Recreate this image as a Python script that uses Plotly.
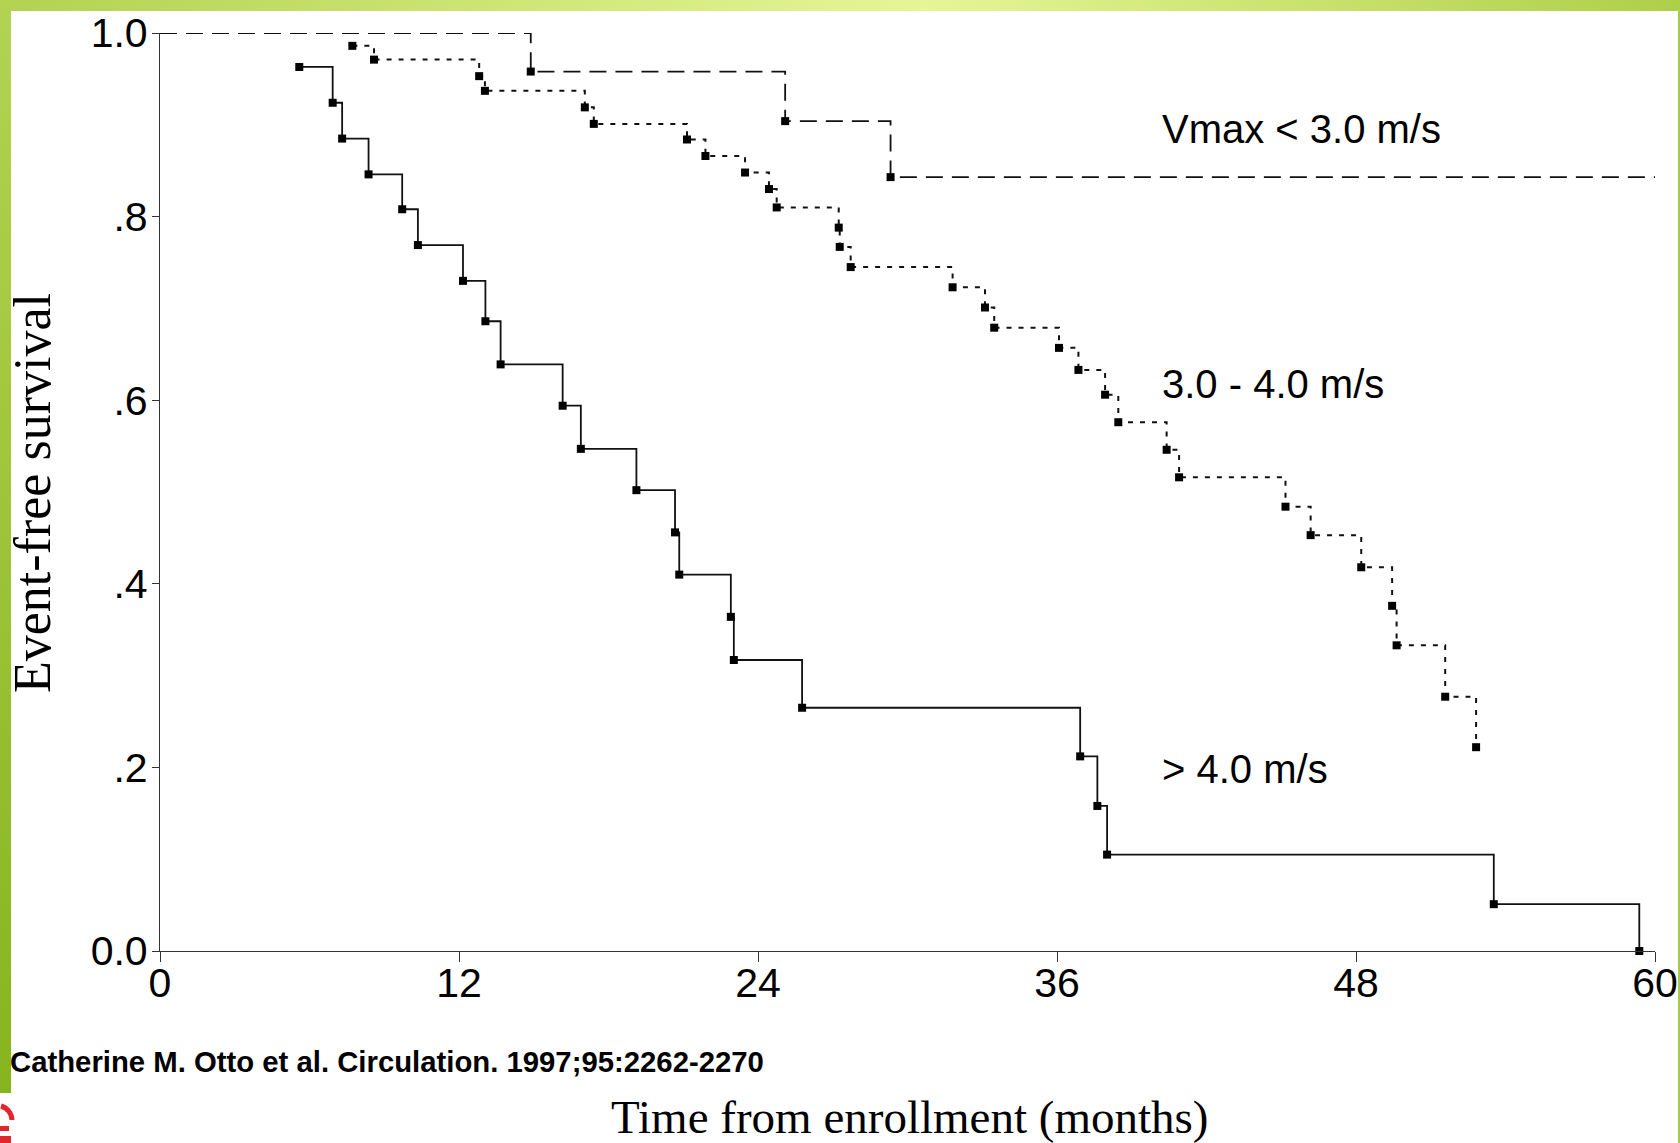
import base64
import plotly.graph_objects as go

# ---- data (months, event-free survival) ----
severe_t = [5.59, 6.93, 7.31, 8.37, 9.72, 10.35, 12.16, 13.06, 13.67, 16.16, 16.89,
            19.12, 20.67, 20.84, 22.91, 23.03, 25.77, 36.93, 37.62, 38.01, 53.53, 59.37]
severe_s = [0.963, 0.924, 0.885, 0.846, 0.808, 0.769, 0.730, 0.686, 0.639, 0.594, 0.547,
            0.502, 0.456, 0.410, 0.364, 0.317, 0.265, 0.212, 0.158, 0.105, 0.051, 0.0]

moderate_t = [7.72, 8.59, 12.81, 13.04, 17.05, 17.41, 21.15, 21.89, 23.48, 24.44, 24.75,
              27.24, 27.28, 27.72, 31.81, 33.11, 33.48, 36.08, 36.86, 37.93, 38.46,
              40.40, 40.90, 45.17, 46.18, 48.21, 49.45, 49.63, 51.58, 52.82]
moderate_s = [0.986, 0.971, 0.953, 0.937, 0.919, 0.901, 0.884, 0.866, 0.848, 0.830, 0.810,
              0.788, 0.767, 0.745, 0.723, 0.701, 0.679, 0.657, 0.633, 0.606, 0.576,
              0.546, 0.516, 0.484, 0.453, 0.418, 0.376, 0.333, 0.277, 0.222]

mild_t = [14.88, 25.09, 29.32]
mild_s = [0.958, 0.904, 0.843]
mild_start_t, mild_start_s = 0.0, 1.0
mild_end_t = 60.0

x_ticks = [0, 12, 24, 36, 48, 60]
x_ticklabels = ["0", "12", "24", "36", "48", "60"]
y_ticks = [0.0, 0.2, 0.4, 0.6, 0.8, 1.0]
y_ticklabels = ["0.0", ".2", ".4", ".6", ".8", "1.0"]

labels = ["Vmax < 3.0 m/s", "3.0 - 4.0 m/s", "> 4.0 m/s"]
label_x = [40.15, 40.15, 40.15]
label_y = [0.895, 0.618, 0.198]

citation = "Catherine M. Otto et al. Circulation. 1997;95:2262-2270"
x_title = "Time from enrollment (months)"
y_title = "Event-free survival"

# ---- layout geometry ----
W, H = 1680, 1143
ML, MR, MT, MB = 160, 25, 33, 192
PW, PH = W - ML - MR, H - MT - MB

SANS = "Liberation Sans Narrow, Arial Narrow, Liberation Sans, Arial, sans-serif"
SERIF = "Liberation Serif, Times New Roman, serif"
INK = "#111111"

fig = go.Figure()

# <3.0 m/s : dashed
fig.add_trace(go.Scatter(
    x=[mild_start_t] + mild_t + [mild_end_t],
    y=[mild_start_s] + mild_s + [mild_s[-1]],
    mode="lines", line=dict(shape="hv", color=INK, width=1.8, dash="17px,9px"),
    cliponaxis=False, showlegend=False, hoverinfo="skip"))
fig.add_trace(go.Scatter(
    x=mild_t, y=mild_s, mode="markers",
    marker=dict(symbol="square", size=8, color="black"),
    cliponaxis=False, showlegend=False))

# 3.0-4.0 m/s : dotted
fig.add_trace(go.Scatter(
    x=moderate_t, y=moderate_s, mode="lines+markers",
    line=dict(shape="hv", color=INK, width=2, dash="5px,7px"),
    marker=dict(symbol="square", size=8, color="black"),
    cliponaxis=False, showlegend=False))

# >4.0 m/s : solid
fig.add_trace(go.Scatter(
    x=severe_t, y=severe_s, mode="lines+markers",
    line=dict(shape="hv", color=INK, width=1.8),
    marker=dict(symbol="square", size=8, color="black"),
    cliponaxis=False, showlegend=False))

annotations = []
for txt, lx, ly in zip(labels, label_x, label_y):
    annotations.append(dict(x=lx, y=ly, xref="x", yref="y", text=txt, showarrow=False,
                            xanchor="left", yanchor="middle",
                            font=dict(family=SANS, size=40, color="black")))
annotations.append(dict(x=(32 - ML) / PW, y=(H - MB - 493) / PH, xref="paper", yref="paper",
                        text=y_title, textangle=-90, showarrow=False,
                        xanchor="center", yanchor="middle",
                        font=dict(family=SERIF, size=52, color="black")))
annotations.append(dict(x=(909 - ML) / PW, y=(H - MB - 1117) / PH, xref="paper", yref="paper",
                        text=x_title, showarrow=False, xanchor="center", yanchor="middle",
                        font=dict(family=SERIF, size=47, color="black")))
annotations.append(dict(x=(8 - ML) / PW, y=(H - MB - 1061) / PH, xref="paper", yref="paper",
                        text="<b>" + citation + "</b>", showarrow=False,
                        xanchor="left", yanchor="middle",
                        font=dict(family="Liberation Sans, Arial, sans-serif", size=29.3,
                                  color="black")))

# decorative slide frame (green gradient band and strips)
svg = f'''<svg xmlns="http://www.w3.org/2000/svg" width="{W}" height="{H}" viewBox="0 0 {W} {H}" preserveAspectRatio="none">
<defs>
<linearGradient id="t" x1="0" x2="1" y1="0" y2="0">
<stop offset="0" stop-color="#b2d250"/><stop offset="0.55" stop-color="#e6f596"/><stop offset="1" stop-color="#aecf48"/>
</linearGradient>
<linearGradient id="l" x1="0" x2="0" y1="0" y2="1">
<stop offset="0" stop-color="#b2d352"/><stop offset="1" stop-color="#87b41e"/>
</linearGradient>
</defs>
<rect x="0" y="0" width="{W}" height="11" fill="url(#t)"/>
<rect x="0" y="11" width="11" height="1082" fill="url(#l)"/>
<rect x="1678" y="11" width="2" height="{H - 11}" fill="#a8ca44"/>
<path d="M 1 1106 A 15 15 0 0 1 12 1120" stroke="#e3262b" stroke-width="5" fill="none"/>
<rect x="0" y="1126" width="9" height="5" fill="#e3262b"/>
<rect x="0" y="1136" width="11" height="7" fill="#e3262b"/>
</svg>'''
src = "data:image/svg+xml;base64," + base64.b64encode(svg.encode()).decode()

fig.update_layout(
    width=W, height=H,
    margin=dict(l=ML, r=MR, t=MT, b=MB, pad=0, autoexpand=False),
    paper_bgcolor="white", plot_bgcolor="white",
    annotations=annotations,
    images=[dict(source=src, xref="paper", yref="paper",
                 x=-ML / PW, y=(H - MB) / PH, sizex=W / PW, sizey=H / PH,
                 xanchor="left", yanchor="top", sizing="stretch", layer="above")],
    xaxis=dict(range=[0, 60], tickvals=x_ticks, ticktext=x_ticklabels,
               showline=True, linecolor="#333333", linewidth=1.3,
               ticks="outside", ticklen=10, tickwidth=1.3, tickcolor="#333333",
               ticklabelstandoff=-14, ticklabeloverflow="allow",
               showgrid=False, zeroline=False,
               tickfont=dict(family=SANS, size=41, color="black")),
    yaxis=dict(range=[0, 1], tickvals=y_ticks, ticktext=y_ticklabels,
               showline=True, linecolor="#333333", linewidth=1.3,
               ticks="outside", ticklen=7, tickwidth=1.3, tickcolor="#333333",
               ticklabelstandoff=-4, ticklabeloverflow="allow",
               showgrid=False, zeroline=False,
               tickfont=dict(family=SANS, size=41, color="black")),
)

fig.write_html(
    "out.html",
    config={"displayModeBar": False},
    post_script="document.body.style.margin='0';document.body.style.overflow='hidden';",
)
